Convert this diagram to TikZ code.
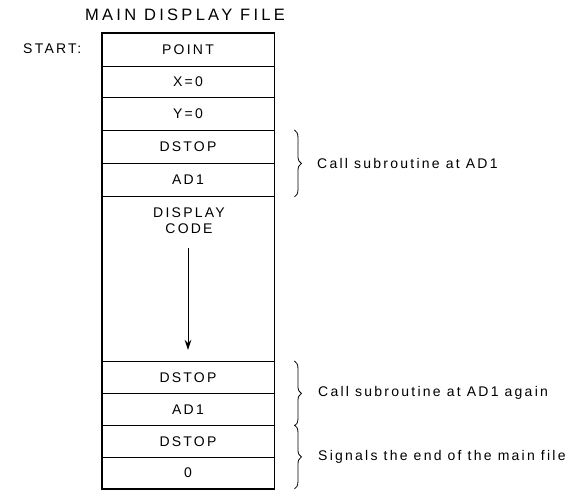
\documentclass[tikz,border=0pt]{standalone}
\usepackage{fontspec}
\setmainfont{Liberation Sans}[LetterSpace=16]
\usetikzlibrary{decorations.pathreplacing,calc,arrows.meta}
\tikzset{
  cell/.style={draw, line width=0.9pt, minimum width=172pt, inner sep=0pt, anchor=north, font=\fontsize{14}{15}\selectfont},
  note/.style={anchor=west, inner sep=0pt, font=\fontsize{14}{15}\selectfont},
  bracestyle/.style={decorate, decoration={brace, amplitude=7pt}, line width=0.8pt},
  flow/.style={-{Stealth[length=10pt,width=6.5pt]}, line width=0.9pt}
}
\begin{document}
\begin{tikzpicture}[x=1pt,y=-1pt]
\useasboundingbox (0,0) rectangle (579,490);
\node[anchor=center, font=\fontsize{16.5}{18}\selectfont\addfontfeatures{LetterSpace=20}] (title) at (185,15) {MAIN DISPLAY FILE};
\node[anchor=west, inner sep=0pt, font=\fontsize{14}{15}\selectfont] (start) at (23,49) {START:};
\node[cell, minimum height=33pt] (r1) at (188,33) {POINT};
\node[cell, minimum height=31pt] (r2) at (188,66) {X\,=\,0};
\node[cell, minimum height=33pt] (r3) at (188,97) {Y\,=\,0};
\node[cell, minimum height=33pt] (r4) at (188,130) {DSTOP};
\node[cell, minimum height=33pt] (r5) at (188,163) {AD1};
\node[cell, minimum height=165pt] (code) at (188,196) {};
\node[anchor=center, align=center, font=\fontsize{14}{16}\selectfont] (ctext) at (189,221) {DISPLAY\\CODE};
\coordinate (atop) at (188,248);
\coordinate (abot) at (188,350);
\draw[flow] (atop) -- (abot);
\node[cell, minimum height=32pt] (r6) at (188,361) {DSTOP};
\node[cell, minimum height=32pt] (r7) at (188,393) {AD1};
\node[cell, minimum height=32pt] (r8) at (188,425) {DSTOP};
\node[cell, minimum height=31pt] (r9) at (188,457) {0};
\draw[line width=1.8pt] (r1.north west) rectangle (r9.south east);
% braces
\coordinate (b1t) at ($(r4.north east)+(20,0)$);
\coordinate (b1b) at ($(r5.south east)+(20,0)$);
\coordinate (b2t) at ($(r6.north east)+(20,0)$);
\coordinate (b2b) at ($(r7.south east)+(20,0)$);
\coordinate (b3t) at ($(r8.north east)+(20,0)$);
\coordinate (b3b) at ($(r9.south east)+(20,0)$);
\draw[bracestyle] (b1t) -- (b1b);
\draw[bracestyle] (b2t) -- (b2b);
\draw[bracestyle] (b3t) -- (b3b);
\node[note] (n1) at (317,163) {Call subroutine at AD1};
\node[note] (n2) at (318,393) {Call subroutine at AD1 again};
\node[note] (n3) at (318,457) {Signals the end of the main file};
\end{tikzpicture}
\end{document}
